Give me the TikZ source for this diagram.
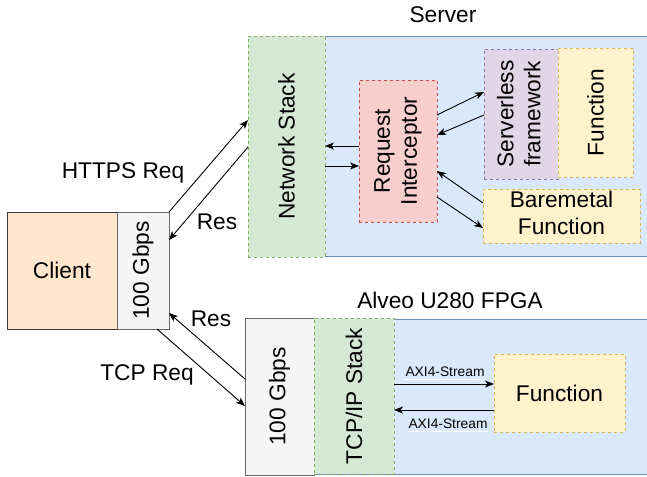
\documentclass[tikz,border=0pt]{standalone}
\usepackage{fontspec}
\setmainfont{Liberation Sans}
\usetikzlibrary{arrows.meta,calc}
\definecolor{bluef}{HTML}{DAE8FC}\definecolor{bluel}{HTML}{6C8EBF}
\definecolor{greenf}{HTML}{D5E8D4}\definecolor{greenl}{HTML}{82B366}
\definecolor{redf}{HTML}{F8CECC}\definecolor{redl}{HTML}{B85450}
\definecolor{purf}{HTML}{E1D5E7}\definecolor{purl}{HTML}{9673A6}
\definecolor{yelf}{HTML}{FFF2CC}\definecolor{yell}{HTML}{D6B656}
\definecolor{orf}{HTML}{FFE6CC}\definecolor{orl}{HTML}{36393D}
\definecolor{grf}{HTML}{F5F5F5}\definecolor{grl}{HTML}{666666}
\newcommand{\bigf}{\fontsize{22.7}{27}\selectfont}
\newcommand{\smf}{\fontsize{13.8}{16}\selectfont}
\newcommand{\rtwo}[2]{\rotatebox{90}{\begin{tabular}{@{}c@{}}#1\\#2\end{tabular}}}
\tikzset{
  box/.style={anchor=north west, inner sep=0pt, outer sep=0pt, line width=0.9pt, font=\bigf, align=center},
  dbox/.style={box, dash pattern=on 3pt off 3pt},
  bluebox/.style={box, fill=bluef, draw=bluel},
  greenbox/.style={dbox, fill=greenf, draw=greenl},
  redbox/.style={dbox, fill=redf, draw=redl},
  purbox/.style={dbox, fill=purf, draw=purl},
  yelbox/.style={dbox, fill=yelf, draw=yell},
  clientbox/.style={box, fill=orf, draw=orl},
  graybox/.style={box, fill=grf, draw=grl},
  conn/.style={line width=0.9pt, -{Stealth[length=9pt,width=7pt,inset=2.5pt]}},
  lbl/.style={font=\bigf, inner sep=0pt},
  slbl/.style={font=\smf, inner sep=0pt},
}
\begin{document}
\begin{tikzpicture}[x=1pt,y=-1pt]
\useasboundingbox (0,0) rectangle (647,476);
\clip (0,0) rectangle (647,476);
% server
\node[bluebox, minimum width=404pt, minimum height=220pt] (srv) at (248,36) {};
\node[lbl] (srvl) at (443,15) {Server};
\node[greenbox, minimum width=77pt, minimum height=221pt] (ns) at (248,36) {\rotatebox{90}{Network Stack}};
\node[redbox, minimum width=78pt, minimum height=142pt] (ri) at (359,80) {\rtwo{Request}{Interceptor}};
\node[purbox, minimum width=75pt, minimum height=130pt] (sf) at (484,49) {\rtwo{Serverless}{framework}};
\node[yelbox, minimum width=75pt, minimum height=129pt] (fn1) at (558,48) {\rotatebox{90}{Function}};
\node[yelbox, minimum width=157pt, minimum height=54pt] (bf) at (483,189) {\begin{tabular}{@{}c@{}}Baremetal\\Function\end{tabular}};
% client
\node[clientbox, minimum width=110pt, minimum height=117pt] (cl) at (7,212) {Client};
\node[graybox, minimum width=52pt, minimum height=117pt] (gb1) at (117,212) {\rotatebox{90}{100 Gbps}};
% fpga
\node[bluebox, minimum width=407pt, minimum height=155pt] (fpga) at (245,319) {};
\node[lbl] (fpgal) at (450,300) {Alveo U280 FPGA};
\node[graybox, minimum width=69pt, minimum height=157pt] (gb2) at (245,318) {\rotatebox{90}{100 Gbps}};
\node[greenbox, minimum width=80pt, minimum height=156pt] (tcp) at (314,318) {\rotatebox{90}{TCP/IP Stack}};
\node[yelbox, minimum width=131pt, minimum height=78pt] (fn2) at (494,354) {Function};
% arrows client <-> server
\draw[conn] (gb1.north east) -- ([yshift=-84pt]ns.north west);
\draw[conn] ([yshift=-111pt]ns.north west) -- ([yshift=-28pt]gb1.north east);
\node[lbl] (https) at (123,173) {HTTPS Req};
\node[lbl] (res1) at (217,222) {Res};
% arrows client <-> fpga
\draw[conn] ([yshift=-61pt]gb2.north west) -- ([yshift=16pt]gb1.south east);
\draw[conn] ([xshift=-12pt]gb1.south east) -- ([yshift=-88pt]gb2.north west);
\node[lbl] (res2) at (211,319) {Res};
\node[lbl] (tcpr) at (147,375) {TCP Req};
% internal server
\draw[conn] ([yshift=-66pt]ri.north west) -- ([yshift=-110pt]ns.north east);
\draw[conn] ([yshift=-130pt]ns.north east) -- ([yshift=-86pt]ri.north west);
\draw[conn] ([yshift=-35pt]ri.north east) -- ([yshift=-43pt]sf.north west);
\draw[conn] ([yshift=-66pt]sf.north west) -- ([yshift=-55pt]ri.north east);
\draw[conn] ([yshift=-14pt]bf.north west) -- ([yshift=-91pt]ri.north east);
\draw[conn] ([yshift=-117pt]ri.north east) -- ([yshift=-39pt]bf.north west);
% internal fpga
\draw[conn] ([yshift=-66pt]tcp.north east) -- ([yshift=-30pt]fn2.north west);
\draw[conn] ([yshift=-56pt]fn2.north west) -- ([yshift=-92pt]tcp.north east);
\node[slbl] (axi1) at (445,372) {AXI4-Stream};
\node[slbl] (axi2) at (448,424) {AXI4-Stream};
\draw[white, line width=0.8pt] ([yshift=-2pt]axi1.south west) -- ([yshift=-2pt]axi1.south east);
\draw[white, line width=0.8pt] ([yshift=-2pt]axi2.south west) -- ([yshift=-2pt]axi2.south east);
\end{tikzpicture}
\end{document}
